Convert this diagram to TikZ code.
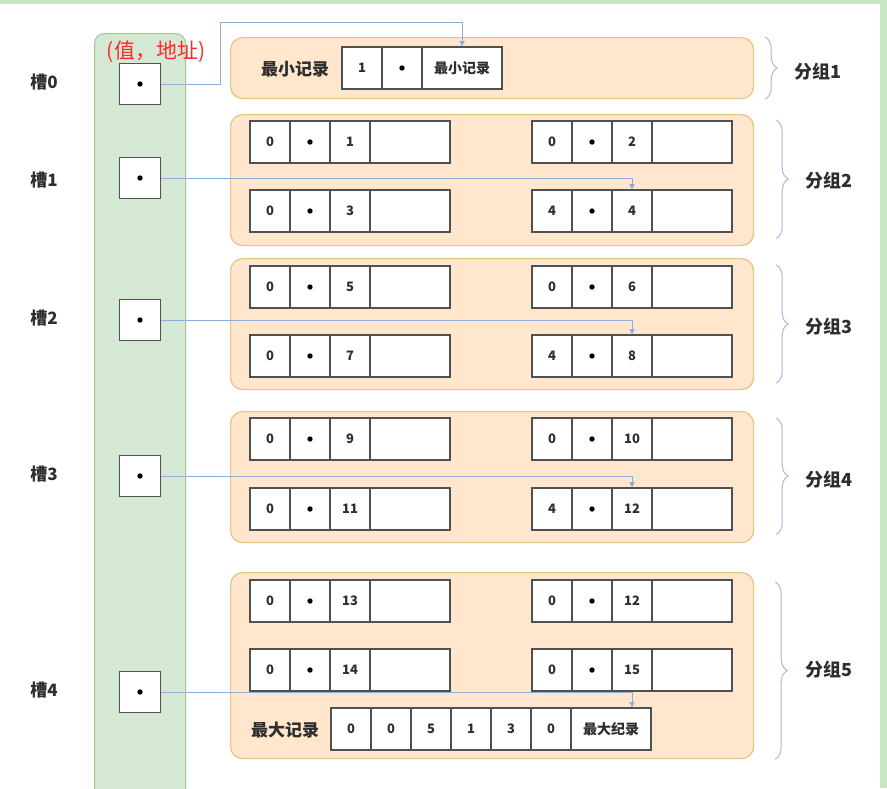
\documentclass[tikz,border=0pt]{standalone}
\usepackage{fontspec}
\usepackage{tikz}
\usetikzlibrary{arrows.meta,positioning,decorations.pathreplacing}
\newfontfamily\cjk{Noto Sans CJK SC}
\definecolor{hgPeach}{HTML}{FFE6CC}
\definecolor{hgGold}{HTML}{E8C27F}
\definecolor{hgMint}{HTML}{D5E8D4}
\definecolor{hgLeaf}{HTML}{A3C794}
\definecolor{hgBlue}{HTML}{8DADDA}
\definecolor{hgSteel}{HTML}{A8BCD8}
\definecolor{hgRed}{HTML}{FF2A2A}
\definecolor{hgText}{HTML}{2E2E2E}
\definecolor{hgInk}{HTML}{505050}
\definecolor{hgStrip}{HTML}{C8E6C3}
\tikzset{
  hgCell/.style={draw=hgInk,fill=white,line width=1.1pt,minimum width=40pt,
    minimum height=42pt,inner sep=0pt,outer sep=0pt,text=hgText,
    font=\cjk\bfseries\fontsize{13}{14}\selectfont},
  hgWide/.style={hgCell,minimum width=80pt},
  hgWord/.style={hgWide,font=\cjk\bfseries\fontsize{14}{15}\selectfont},
  hgDot/.style={hgCell,path picture={\fill[black]
    (path picture bounding box.center) circle (2.7pt);}},
  hgSlot/.style={hgDot,minimum width=41pt,minimum height=41pt},
  hgGroup/.style={draw=hgGold,fill=hgPeach,line width=1.2pt,rounded corners=12pt,
    anchor=north west,inner sep=0pt},
  hgColumn/.style={draw=hgLeaf,fill=hgMint,line width=1pt,rounded corners=10pt,
    anchor=north west,inner sep=0pt},
  hgArrow/.style={-{Latex[length=6pt,width=6pt]},line width=0.9pt,draw=hgBlue},
  hgBrace/.style={draw=hgSteel,line width=1pt,decorate,
    decoration={brace,amplitude=12pt}},
  hgLabel/.style={font=\cjk\bfseries\fontsize{17}{19}\selectfont,text=hgText},
  hgTitle/.style={font=\cjk\bfseries\fontsize{18}{20}\selectfont,text=hgText},
  hgNote/.style={font=\cjk\fontsize{21}{23}\selectfont,text=hgRed}
}

\begin{document}
\begin{tikzpicture}[x=1pt,y=-1pt]
\path[use as bounding box] (0,0) rectangle (887,788);
\fill[hgStrip] (0,0) rectangle (887,4);
\fill[hgStrip] (880,0) rectangle (887,788);

% slot column
\node[hgColumn,minimum width=91pt,minimum height=800pt] (col) at (94,33) {};
\node[hgNote] (note) at (156,52) {(值，地址)};
\node[hgSlot] (s0) at (140,84) {};
\node[hgSlot] (s1) at (140,178) {};
\node[hgSlot] (s2) at (140,320) {};
\node[hgSlot] (s3) at (140,476) {};
\node[hgSlot] (s4) at (140,692) {};
\node[hgLabel] (l0) at (44,82) {槽0};
\node[hgLabel] (l1) at (44,180) {槽1};
\node[hgLabel] (l2) at (44,318) {槽2};
\node[hgLabel] (l3) at (44,474) {槽3};
\node[hgLabel] (l4) at (44,690) {槽4};

% groups
\node[hgGroup,minimum width=523pt,minimum height=61pt] (g1) at (230,37) {};
\node[hgGroup,minimum width=523pt,minimum height=131pt] (g2) at (230,114) {};
\node[hgGroup,minimum width=523pt,minimum height=131pt] (g3) at (230,258) {};
\node[hgGroup,minimum width=523pt,minimum height=131pt] (g4) at (230,411) {};
\node[hgGroup,minimum width=523pt,minimum height=186pt] (g5) at (230,572) {};

% smallest record
\node[hgLabel] (minlab) at (295,69) {最小记录};
\node[hgCell,anchor=north west] (m1a) at (342,47) {1};
\node[hgDot,right=0pt of m1a] (m1b) {};
\node[hgWord,right=0pt of m1b] (m1c) {最小记录};

% ordinary records
\foreach \nm/\px/\py/\va/\vc in {r21/250/121/0/1, r22/532/121/0/2, r23/250/190/0/3,
    r24/532/190/4/4, r31/250/266/0/5, r32/532/266/0/6, r33/250/335/0/7,
    r34/532/335/4/8, r41/250/418/0/9, r42/532/418/0/10, r43/250/488/0/11,
    r44/532/488/4/12, r51/250/580/0/13, r52/532/580/0/12, r53/250/649/0/14,
    r54/532/649/0/15}{
  \node[hgCell,anchor=north west] (\nm a) at (\px,\py) {\va};
  \node[hgDot,right=0pt of \nm a] (\nm b) {};
  \node[hgCell,right=0pt of \nm b] (\nm c) {\vc};
  \node[hgWide,right=0pt of \nm c] (\nm d) {};
}

% largest record
\node[hgLabel] (maxlab) at (285,730) {最大记录};
\node[hgCell,anchor=north west] (x1a) at (331,708) {0};
\node[hgCell,right=0pt of x1a] (x1b) {0};
\node[hgCell,right=0pt of x1b] (x1c) {5};
\node[hgCell,right=0pt of x1c] (x1d) {1};
\node[hgCell,right=0pt of x1d] (x1e) {3};
\node[hgCell,right=0pt of x1e] (x1f) {0};
\node[hgWord,right=0pt of x1f] (x1g) {最大纪录};

% slot pointers
\coordinate (k0) at (220,22);
\draw[hgArrow] (s0.east) -| (k0) -| (m1c.north);
\draw[hgArrow] (s1.east) -| (r24c.north);
\draw[hgArrow] (s2.east) -| (r34c.north);
\draw[hgArrow] (s3.east) -| (r44c.north);
\draw[hgArrow] (s4.east) -| ([xshift=21pt]x1g.north);

% group braces
\draw[hgBrace] ([xshift=11pt]g1.north east) -- ([xshift=11pt]g1.south east);
\draw[hgBrace] ([xshift=22pt,yshift=-6pt]g2.north east) -- ([xshift=22pt,yshift=8pt]g2.south east);
\draw[hgBrace] ([xshift=22pt,yshift=-7pt]g3.north east) -- ([xshift=22pt,yshift=7pt]g3.south east);
\draw[hgBrace] ([xshift=22pt,yshift=-7pt]g4.north east) -- ([xshift=22pt,yshift=9pt]g4.south east);
\draw[hgBrace] ([xshift=21pt,yshift=-10pt]g5.north east) -- ([xshift=21pt]g5.south east);
\node[hgTitle] (t1) at (818,72) {分组1};
\node[hgTitle] (t2) at (829,181) {分组2};
\node[hgTitle] (t3) at (829,327) {分组3};
\node[hgTitle] (t4) at (829,480) {分组4};
\node[hgTitle] (t5) at (829,670) {分组5};
\end{tikzpicture}
\end{document}
